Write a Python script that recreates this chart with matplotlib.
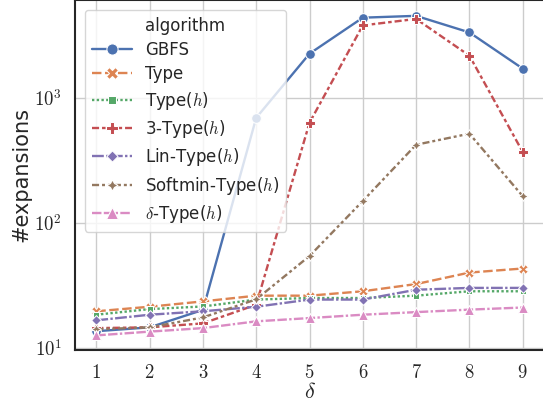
import matplotlib
matplotlib.use("Agg")
import matplotlib.pyplot as plt
import matplotlib.ticker as mticker
from matplotlib.lines import Line2D
import numpy as np
import pandas as pd
import seaborn as sns

# data
delta = [1, 2, 3, 4, 5, 6, 7, 8, 9]
algorithms = ["GBFS", "Type", "Type($h$)", "3-Type($h$)", "Lin-Type($h$)",
              "Softmin-Type($h$)", r"$\delta$-Type($h$)"]
gbfs = [13.5, 14.5, 20, 690, 2250, 4370, 4520, 3330, 1710]
type_ = [19.5, 21.2, 23.4, 26, 26, 28.2, 32.2, 39.8, 42.9]
type_h = [18.3, 20.3, 21.3, 24.2, 24.9, 24.9, 26, 28.2, 28.2]
three_type_h = [14.3, 14.5, 15.6, 22, 630, 3790, 4270, 2170, 368]
lin_type_h = [16.5, 18.3, 19.5, 21.2, 24.2, 24.2, 29, 30, 30]
softmin_type_h = [14.0, 14.5, 17.4, 24.3, 54, 149, 420, 515, 163]
delta_type_h = [12.5, 13.4, 14.3, 16.2, 17.2, 18.3, 19.2, 20.1, 20.9]

series = [gbfs, type_, type_h, three_type_h, lin_type_h, softmin_type_h, delta_type_h]

rows = []
for name, vals in zip(algorithms, series):
    for d, v in zip(delta, vals):
        rows.append({"delta": d, "expansions": v, "algorithm": name})
df = pd.DataFrame(rows)

sns.set_theme(style="whitegrid")
plt.rcParams["font.family"] = ["DejaVu Sans"]
plt.rcParams["mathtext.fontset"] = "cm"

fig = plt.figure(figsize=(5.43, 4.04), dpi=100)
ax = fig.add_axes([75 / 543, 54 / 404, 469 / 543, 350 / 404])

sns.lineplot(data=df, x="delta", y="expansions", hue="algorithm", style="algorithm",
             hue_order=algorithms, style_order=algorithms,
             markers=True, dashes=True, ax=ax, legend=True,
             markersize=7, linewidth=1.7)

ax.set_yscale("log")
ax.set_xlim(0.6, 9.4)
ax.set_ylim(10 ** 0.98, 10 ** 3.782)
ax.set_xticks(delta)
ax.xaxis.set_major_formatter(mticker.FuncFormatter(lambda v, p: r"$%d$" % v))
ax.yaxis.set_major_locator(mticker.LogLocator(base=10, numticks=10))
ax.yaxis.set_minor_locator(mticker.NullLocator())
ax.yaxis.set_major_formatter(mticker.FuncFormatter(
    lambda v, p: r"$10^{%d}$" % round(np.log10(v))))
ax.tick_params(labelsize=13.5)
ax.set_xlabel(r"$\delta$", fontsize=16, labelpad=0)
ax.set_ylabel("#expansions", fontsize=15, labelpad=2)

for s in ax.spines.values():
    s.set_color("0.15")
    s.set_linewidth(1.5)

handles, labels = ax.get_legend_handles_labels()
blank = Line2D([], [], linestyle="none", marker="none")
ax.legend([blank] + handles, ["algorithm"] + labels, loc="upper left",
          fontsize=12, handlelength=2.4, borderaxespad=0.6, markerscale=1.15,
          labelspacing=0.38, bbox_to_anchor=(0.0, 1.0))

fig.savefig("out.png", dpi=100)
